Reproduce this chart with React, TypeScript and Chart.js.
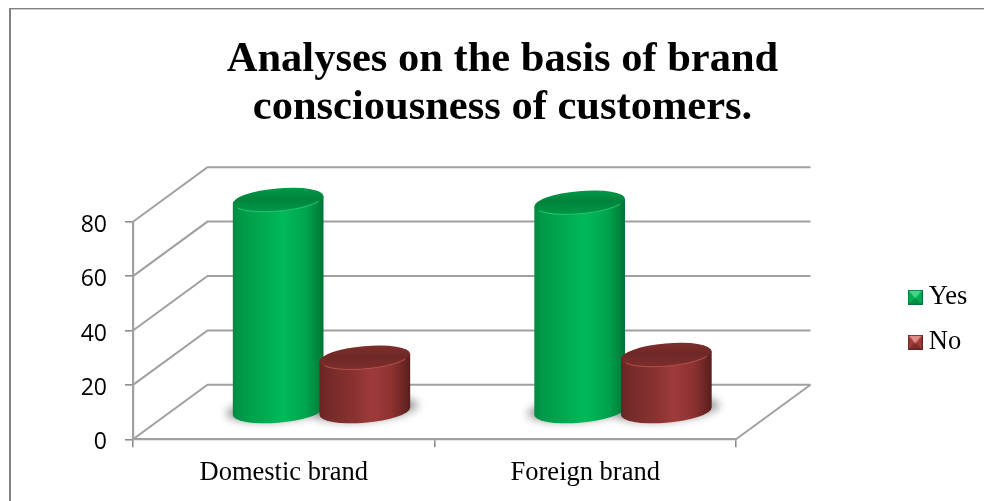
import React, { useEffect, useRef } from "react";
import { Chart, registerables } from "chart.js";

Chart.register(...registerables);

// Survey values
const categories = ["Domestic brand", "Foreign brand"];
const seriesNames = ["Yes", "No"];
const yesValues = [78, 77];
const noValues = [20, 21];
const yTicks = { min: 0, max: 80, step: 20 };

const titleLines = ["Analyses on the basis of brand", "consciousness of customers."];

const SERIF = "'Liberation Serif', 'Times New Roman', serif";
const SANS = "'Open Sans', 'Noto Sans', sans-serif";
const GRID = "#a0a0a0";
const TICK = "#8c8c8c";

// Floor depth of the 3D box
const DEPTH_X = 74.5;
const DEPTH_Y = 54.5;

type Look = {
  side: [number, string][];
  top: string;
  topLight: string;
  rim: string;
  swatch: { light: string; mid: string; dark: string; edge: string };
};

const looks: Look[] = [
  {
    side: [
      [0, "#008a42"],
      [0.1, "#009a48"],
      [0.35, "#00ab50"],
      [0.55, "#00b95a"],
      [0.8, "#00a54e"],
      [0.94, "#00853e"],
      [1, "#007036"],
    ],
    top: "#00843b",
    topLight: "#009648",
    rim: "#25c873",
    swatch: { light: "#3fd68a", mid: "#00ad52", dark: "#008f43", edge: "#00763a" },
  },
  {
    side: [
      [0, "#6a2524"],
      [0.12, "#762b2a"],
      [0.38, "#893231"],
      [0.58, "#9d3b3a"],
      [0.8, "#8c3231"],
      [0.94, "#682423"],
      [1, "#561e1d"],
    ],
    top: "#6f2826",
    topLight: "#7c2e2c",
    rim: "#b84f4b",
    swatch: { light: "#e08a86", mid: "#9d3b3a", dark: "#7a2c2b", edge: "#642322" },
  },
];

function makeSwatch(c: Look["swatch"]) {
  const s = 15;
  const cv = document.createElement("canvas");
  cv.width = s;
  cv.height = s;
  const g = cv.getContext("2d")!;
  g.fillStyle = c.edge;
  g.fillRect(0, 0, s, s);
  const tri = (pts: number[][], col: string) => {
    g.fillStyle = col;
    g.beginPath();
    pts.forEach((p, i) => (i ? g.lineTo(p[0], p[1]) : g.moveTo(p[0], p[1])));
    g.closePath();
    g.fill();
  };
  const a = 1;
  const b = s - 1;
  const m = s / 2;
  tri([[a, b], [b, b], [b, a], [a, a]], c.mid);
  tri([[a, a], [b, a], [m, m + 1]], c.light);
  tri([[a, b], [b, b], [m, m + 1]], c.dark);
  return cv;
}

// Half-ellipse running from the right silhouette point round the front to the left one
const RX_SCALE = 0.5;
const RY = 11.5;
const TILT = (-5 * Math.PI) / 180;

function silhouette(rx: number) {
  return Math.atan2(-RY * Math.sin(TILT), rx * Math.cos(TILT));
}

function pointOn(cx: number, cy: number, rx: number, t: number) {
  return [
    cx + rx * Math.cos(t) * Math.cos(TILT) - RY * Math.sin(t) * Math.sin(TILT),
    cy + rx * Math.cos(t) * Math.sin(TILT) + RY * Math.sin(t) * Math.cos(TILT),
  ];
}

function drawCylinder(ctx: CanvasRenderingContext2D, cx: number, top: number, base: number, width: number, look: Look) {
  const rx = width * RX_SCALE;
  const t = silhouette(rx);
  const [rxTop, ryTop] = pointOn(cx, top, rx, t);
  const [lxTop, lyTop] = pointOn(cx, top, rx, t + Math.PI);
  const [rxBase, ryBase] = pointOn(cx, base, rx, t);

  const side = ctx.createLinearGradient(cx - rx, 0, cx + rx, 0);
  look.side.forEach(([o, c]) => side.addColorStop(o, c));

  ctx.beginPath();
  ctx.moveTo(rxTop, ryTop);
  ctx.lineTo(rxBase, ryBase);
  ctx.ellipse(cx, base, rx, RY, TILT, t, t + Math.PI, false);
  ctx.lineTo(lxTop, lyTop);
  ctx.closePath();
  ctx.fillStyle = side;
  ctx.fill();

  const cap = ctx.createLinearGradient(0, top - RY, 0, top + RY);
  cap.addColorStop(0, look.topLight);
  cap.addColorStop(0.45, look.top);
  cap.addColorStop(1, look.topLight);
  ctx.beginPath();
  ctx.ellipse(cx, top, rx, RY, TILT, 0, Math.PI * 2);
  ctx.fillStyle = cap;
  ctx.fill();

  ctx.beginPath();
  ctx.ellipse(cx, top, rx - 0.5, RY - 0.3, TILT, t + 0.45, t + Math.PI - 0.45, false);
  ctx.strokeStyle = look.rim;
  ctx.lineWidth = 1;
  ctx.stroke();
}

const boxPlugin = {
  id: "box3d",
  afterLayout(chart: any) {
    // Title and legend sit on their own anchors, clear of the plot box
    const title = chart.titleBlock;
    title.left = 0;
    title.right = 1005;
    const legend = chart.legend;
    const pad = legend.options.labels.padding;
    legend.left = 915 - pad;
    legend.right = 984;
    legend.top = 284 - pad;
    legend.bottom = 501;
  },
  beforeDraw(chart: any) {
    const { ctx, width, height } = chart;
    ctx.save();
    ctx.fillStyle = "#ffffff";
    ctx.fillRect(0, 0, width, height);
    ctx.fillStyle = "#cfcfcf";
    ctx.fillRect(9, 9, width - 9, 1);
    ctx.fillStyle = "#828282";
    ctx.fillRect(9, 8, width - 9, 1);
    ctx.fillRect(9, 8, 2, height - 8);
    ctx.restore();
  },
  beforeDatasetsDraw(chart: any) {
    const { ctx, chartArea, scales } = chart;
    const { left, right, bottom } = chartArea;
    ctx.save();
    ctx.strokeStyle = GRID;
    ctx.lineWidth = 2;
    scales.y.ticks.forEach((tick: any) => {
      const y = scales.y.getPixelForValue(tick.value);
      ctx.beginPath();
      ctx.moveTo(left, y);
      ctx.lineTo(left + DEPTH_X, y - DEPTH_Y);
      ctx.lineTo(right + DEPTH_X, y - DEPTH_Y);
      ctx.stroke();
    });
    ctx.beginPath();
    ctx.moveTo(right, bottom);
    ctx.lineTo(right + DEPTH_X, bottom - DEPTH_Y);
    ctx.stroke();
    ctx.restore();
  },
  afterDatasetsDraw(chart: any) {
    const { ctx } = chart;
    const metas = chart.data.datasets.map((_: unknown, i: number) => chart.getDatasetMeta(i));
    const dx = DEPTH_X / 2 + 0.5;
    const dy = DEPTH_Y / 2;
    ctx.save();

    // Soft contact shadows on the floor
    ctx.filter = "blur(4px)";
    ctx.fillStyle = "rgba(120,120,120,0.72)";
    metas.forEach((meta: any) => {
      meta.data.forEach((bar: any) => {
        ctx.beginPath();
        ctx.ellipse(bar.x + dx + 0.5, bar.base - dy - 2, bar.width * 0.58, RY + 0.5, TILT, 0, Math.PI * 2);
        ctx.fill();
      });
    });
    ctx.filter = "none";

    metas.forEach((meta: any, s: number) => {
      meta.data.forEach((bar: any) => {
        drawCylinder(ctx, bar.x + dx, bar.y - dy, bar.base - dy, bar.width, looks[s]);
      });
    });
    ctx.restore();
  },
};

export default function App() {
  const ref = useRef<HTMLCanvasElement>(null);

  useEffect(() => {
    document.body.style.margin = "0";
    const swatches = looks.map((l) => makeSwatch(l.swatch));
    const chart = new Chart(ref.current!, {
      type: "bar",
      data: {
        labels: categories,
        datasets: [
          { label: seriesNames[0], data: yesValues, backgroundColor: "transparent", borderWidth: 0 },
          { label: seriesNames[1], data: noValues, backgroundColor: "transparent", borderWidth: 0 },
        ],
      },
      options: {
        responsive: false,
        animation: false,
        events: [],
        layout: { padding: { left: 0, top: 0, bottom: 0, right: 248 } },
        datasets: { bar: { categoryPercentage: 0.575, barPercentage: 1.05 } },
        plugins: {
          tooltip: { enabled: false },
          title: {
            display: true,
            text: titleLines,
            color: "#000000",
            font: { family: SERIF, size: 42.5, weight: "bold", lineHeight: 48 / 42.5 },
            padding: { top: 36, bottom: 89.7 },
          },
          legend: {
            display: true,
            position: "chartArea",
            align: "start",
            labels: {
              color: "#000000",
              font: { family: SERIF, size: 26.5, lineHeight: 1 },
              padding: 18.5,
              usePointStyle: true,
              pointStyleWidth: 0.5,
              boxHeight: 15,
              generateLabels: (c: any) =>
                c.data.datasets.map((d: any, i: number) => ({
                  text: d.label,
                  fontColor: "#000000",
                  pointStyle: swatches[i],
                  datasetIndex: i,
                  lineWidth: 0,
                  hidden: false,
                })),
            },
          },
        },
        scales: {
          x: {
            afterFit: (s: any) => {
              s.height = 61.7;
            },
            grid: { drawOnChartArea: false, tickLength: 8, color: TICK, lineWidth: 1.6 },
            border: { color: GRID, width: 2.2 },
            ticks: {
              color: "#000000",
              font: { family: SERIF, size: 26.5 },
              padding: 10,
              maxRotation: 0,
            },
          },
          y: {
            min: yTicks.min,
            max: yTicks.max,
            afterFit: (s: any) => {
              s.width = 133;
            },
            grid: { drawOnChartArea: false, tickLength: 8, color: TICK, lineWidth: 1.6 },
            border: { color: GRID, width: 2.2 },
            ticks: {
              stepSize: yTicks.step,
              color: "#000000",
              font: { family: SANS, size: 23 },
              padding: 18,
              labelOffset: 3.5,
            },
          },
        },
      },
      plugins: [boxPlugin],
    } as any);
    return () => chart.destroy();
  }, []);

  return <canvas ref={ref} width={984} height={501} style={{ display: "block" }} />;
}
